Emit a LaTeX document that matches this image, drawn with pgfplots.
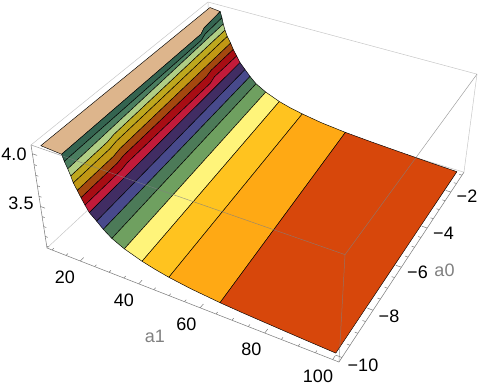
\documentclass[border=0pt]{standalone}
\usepackage{fontspec}
\setmainfont{Liberation Sans}
\usepackage{pgfplots}
\pgfplotsset{compat=1.18}
% projection of the data (a1, a0, z) on the picture: box a1 8.2..101.8, a0 -10.18..-0.82, z 3.08..4.08
\newcommand\UU{((\thisrow{a1}-8.2)/93.6)}
\newcommand\VV{((\thisrow{a0}+10.18)/9.36)}
\newcommand\WW{(\thisrow{z}-3.08)}
\newcommand\DD{(1-0.11*\UU+0.2099*\VV-0.068*\WW)}
\newcommand\PX{(47+254.7*\UU+208.6*\VV-18.1*\WW)/\DD}
\newcommand\PY{(248+74.2*\UU-132.8*\VV-112.9*\WW)/\DD}
\pgfkeys{/pgfplots/table/proj/.style={row sep=\\,x expr=\PX,y expr=\PY}}
\newcommand\Band[2]{\addplot[fill=#1,draw=black,line width=0.45pt,line join=round,no marks] table[proj]{a1 a0 z\\ #2} --cycle;}
\newcommand\Seg[7]{\addplot[#1,no marks] table[proj]{a1 a0 z\\ #2 #3 #4\\ #5 #6 #7\\};}
\definecolor{bt}{RGB}{221,181,140}
\definecolor{b2}{RGB}{52,100,80}
\definecolor{b3}{RGB}{74,125,95}
\definecolor{b4}{RGB}{176,206,133}
\definecolor{b5}{RGB}{190,168,30}
\definecolor{b6}{RGB}{193,152,20}
\definecolor{b7}{RGB}{164,72,15}
\definecolor{b8}{RGB}{168,13,20}
\definecolor{b9}{RGB}{194,27,58}
\definecolor{b10}{RGB}{65,45,99}
\definecolor{b11}{RGB}{72,74,140}
\definecolor{b12}{RGB}{76,122,88}
\definecolor{b13}{RGB}{111,160,96}
\definecolor{b14}{RGB}{255,244,122}
\definecolor{b15}{RGB}{255,195,31}
\definecolor{b16}{RGB}{255,169,20}
\definecolor{b17}{RGB}{215,71,11}
\tikzset{lite/.style={draw=black!22,line width=0.5pt},
 edge/.style={draw=black!50,line width=0.55pt},
 over/.style={draw=black!50,line width=0.5pt,opacity=0.75},
 lab/.style={font=\fontsize{18}{20}\selectfont,text=black,inner sep=0pt},
 glab/.style={font=\fontsize{18}{20}\selectfont,text=black!50,inner sep=0pt}}
\begin{document}
\begin{tikzpicture}
\useasboundingbox (0,0) rectangle (482pt,391pt);
\begin{axis}[at={(0,0)},anchor=south west,scale only axis,width=482pt,height=391pt,
 xmin=0,xmax=482,ymin=0,ymax=391,y dir=reverse,axis lines=none,clip=false]
% back of the box
\Seg{lite}{8.2}{-10.18}{3.08}{8.2}{-0.82}{3.08}
\Seg{lite}{8.2}{-0.82}{3.08}{101.8}{-0.82}{3.08}
\Seg{lite}{8.2}{-0.82}{3.08}{8.2}{-0.82}{4.08}
\Seg{lite}{8.2}{-10.18}{4.08}{8.2}{-0.82}{4.08}
\Seg{lite}{8.2}{-0.82}{4.08}{101.8}{-0.82}{4.08}
\Seg{lite}{101.8}{-0.82}{3.08}{101.8}{-0.82}{4.08}
% surface
\Band{bt}{10 -10 4.06\\ 10 -1 4.06\\ 13.9 -1 4.047\\ 14.9 -2.2 4.047\\ 16.1 -2.6 4.047\\ 16.9 -10 4.047\\}
\Band{b2}{16.9 -10 4.047\\ 16.1 -2.6 4.047\\ 14.9 -2.2 4.047\\ 13.9 -1 4.047\\ 14.5 -1 3.988\\ 15.2 -2.2 3.988\\ 16.2 -2.6 3.988\\ 17.5 -10 3.988\\}
\Band{b3}{17.5 -10 3.988\\ 16.2 -2.6 3.988\\ 15.2 -2.2 3.988\\ 14.5 -1 3.988\\ 14.95 -1 3.928\\ 18.35 -10 3.928\\}
\Band{b4}{18.35 -10 3.928\\ 14.95 -1 3.928\\ 15.54 -1 3.869\\ 18.02 -7.8 3.869\\ 18.57 -8.2 3.869\\ 19.08 -10 3.869\\}
\Band{b5}{19.08 -10 3.869\\ 18.57 -8.2 3.869\\ 18.02 -7.8 3.869\\ 15.54 -1 3.869\\ 16.37 -1 3.81\\ 18.66 -7.8 3.81\\ 19.2 -8.2 3.81\\ 19.66 -10 3.81\\}
\Band{b6}{19.66 -10 3.81\\ 19.2 -8.2 3.81\\ 18.66 -7.8 3.81\\ 16.37 -1 3.81\\ 17.6 -1 3.75\\ 19.75 -7.8 3.75\\ 20.29 -8.2 3.75\\ 20.71 -10 3.75\\}
\Band{b7}{20.71 -10 3.75\\ 20.29 -8.2 3.75\\ 19.75 -7.8 3.75\\ 17.6 -1 3.75\\ 18.58 -1 3.691\\ 18.9 -2.5 3.691\\ 19.54 -2.9 3.691\\ 20.74 -7.8 3.691\\ 21.28 -8.2 3.691\\ 21.7 -10 3.691\\}
\Band{b8}{21.7 -10 3.691\\ 21.28 -8.2 3.691\\ 20.74 -7.8 3.691\\ 19.54 -2.9 3.691\\ 18.9 -2.5 3.691\\ 18.58 -1 3.691\\ 19.84 -1 3.632\\ 20.03 -2.5 3.632\\ 20.86 -2.9 3.632\\ 21.85 -7.8 3.632\\ 22.38 -8.2 3.632\\ 22.77 -10 3.632\\}
\Band{b9}{22.77 -10 3.632\\ 22.38 -8.2 3.632\\ 21.85 -7.8 3.632\\ 20.86 -2.9 3.632\\ 20.03 -2.5 3.632\\ 19.84 -1 3.632\\ 21.1 -1 3.572\\ 23.98 -10 3.572\\}
\Band{b10}{23.98 -10 3.572\\ 21.1 -1 3.572\\ 23 -1 3.513\\ 26.2 -10 3.513\\}
\Band{b11}{26.2 -10 3.513\\ 23 -1 3.513\\ 24.9 -1 3.454\\ 28.2 -10 3.454\\}
\Band{b12}{28.2 -10 3.454\\ 24.9 -1 3.454\\ 27.2 -1 3.394\\ 30.85 -10 3.394\\}
\Band{b13}{30.85 -10 3.394\\ 27.2 -1 3.394\\ 30.9 -1 3.335\\ 34.8 -10 3.335\\}
\Band{b14}{34.8 -10 3.335\\ 30.9 -1 3.335\\ 36.1 -1 3.276\\ 40.5 -10 3.276\\}
\Band{b15}{40.5 -10 3.276\\ 36.1 -1 3.276\\ 40 -1 3.245\\ 44.8 -1 3.216\\ 49.1 -10 3.216\\ 44.5 -10 3.245\\}
\Band{b16}{49.1 -10 3.216\\ 44.8 -1 3.216\\ 52 -1 3.183\\ 60.8 -1 3.157\\ 65.3 -10 3.157\\ 56 -10 3.185\\}
\Band{b17}{65.3 -10 3.157\\ 60.8 -1 3.157\\ 70 -1 3.14\\ 80 -1 3.125\\ 90 -1 3.111\\ 100 -1 3.1\\ 100 -10 3.1\\ 90 -10 3.114\\ 80 -10 3.13\\ 72 -10 3.143\\}
% front of the box
\Seg{over}{8.2}{-10.18}{4.08}{101.8}{-10.18}{4.08}
\Seg{over}{101.8}{-10.18}{4.08}{101.8}{-0.82}{4.08}
\Seg{over}{101.8}{-10.18}{4.08}{101.8}{-10.18}{3.08}
\Seg{edge}{8.2}{-10.18}{3.08}{8.2}{-10.18}{4.08}
\Seg{edge}{8.2}{-10.18}{3.08}{101.8}{-10.18}{3.08}
\Seg{edge}{101.8}{-10.18}{3.08}{101.8}{-0.82}{3.08}
% ticks
\pgfplotsinvokeforeach{20,40,60,80,100}{\Seg{edge}{#1}{-10.18}{3.08}{#1}{-10.01}{3.08}}
\pgfplotsinvokeforeach{10,15,25,30,35,45,50,55,65,70,75,85,90,95}{\Seg{edge}{#1}{-10.18}{3.08}{#1}{-10.09}{3.08}}
\pgfplotsinvokeforeach{-10,-8,-6,-4,-2}{\Seg{edge}{101.8}{#1}{3.08}{100.1}{#1}{3.08}}
\pgfplotsinvokeforeach{-9.5,-9,-8.5,-7.5,-7,-6.5,-5.5,-5,-4.5,-3.5,-3,-2.5,-1.5,-1}{\Seg{edge}{101.8}{#1}{3.08}{100.9}{#1}{3.08}}
\pgfplotsinvokeforeach{3.5,4.0}{\Seg{edge}{8.2}{-10.18}{#1}{9.8}{-10.18}{#1}}
\pgfplotsinvokeforeach{3.1,3.2,3.3,3.4,3.6,3.7,3.8,3.9}{\Seg{edge}{8.2}{-10.18}{#1}{9.1}{-10.18}{#1}}
% labels
\node[lab] at (axis cs:14,154) {4.0};
\node[lab] at (axis cs:21,203.5) {3.5};
\node[lab] at (axis cs:65,277) {20};
\node[lab] at (axis cs:124,300) {40};
\node[lab] at (axis cs:186.5,324) {60};
\node[lab] at (axis cs:251.5,349) {80};
\node[lab] at (axis cs:318,376) {100};
\node[glab] at (axis cs:155,336) {a1};
\node[lab] at (axis cs:363,365) {−10};
\node[lab] at (axis cs:389,316) {−8};
\node[lab] at (axis cs:417.5,272.5) {−6};
\node[glab] at (axis cs:444.5,270) {a0};
\node[lab] at (axis cs:443.5,233.5) {−4};
\node[lab] at (axis cs:467,196) {−2};
\end{axis}
\end{tikzpicture}
\end{document}
